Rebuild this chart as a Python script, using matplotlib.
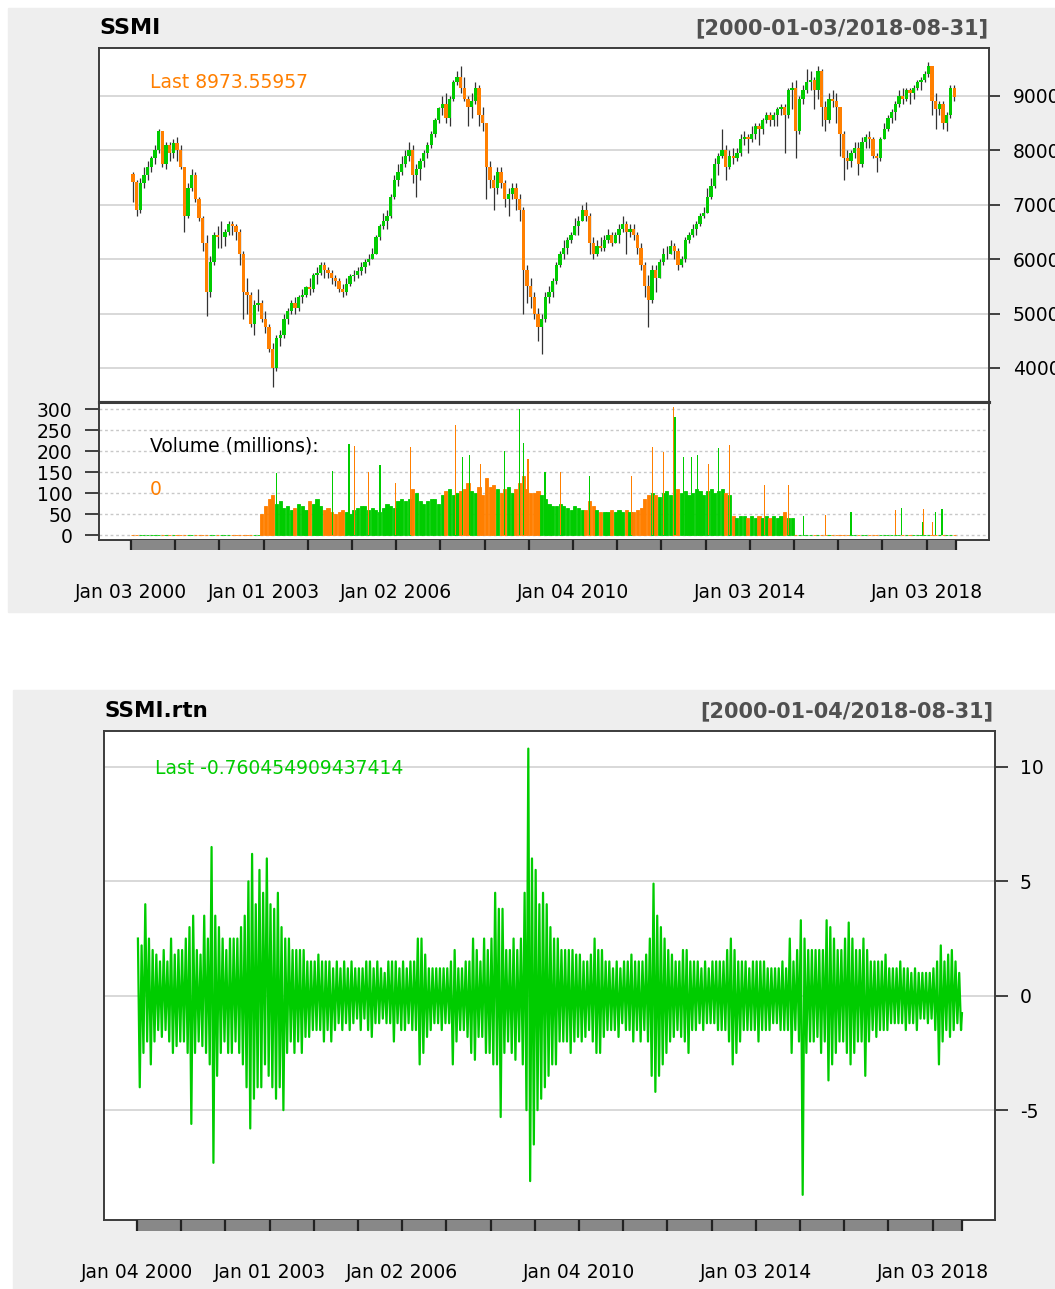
import matplotlib
matplotlib.use('Agg')
import matplotlib.pyplot as plt
import matplotlib.transforms as mtransforms
from matplotlib.patches import Rectangle
import numpy as np

# ---- data (monthly, Jan 2000 .. Aug 2018) ----
first_open = 7570
last_close = 8973.55957
closes = [
    7420, 6900, 7400, 7550, 7700, 7850, 8000, 8350, 7750, 8100, 7950, 8130,
    8000, 7700, 6800, 7300, 7550, 7100, 6750, 6300, 5400, 5950, 6450, 6400,
    6400, 6500, 6650, 6600, 6500, 6100, 5400, 5350, 4800, 5150, 5200, 4900,
    4750, 4350, 4000, 4550, 4600, 4900, 5050, 5200, 5100, 5300, 5350, 5480,
    5450, 5700, 5750, 5900, 5800, 5750, 5650, 5600, 5450, 5400, 5550, 5690,
    5700, 5780, 5850, 5950, 6000, 6100, 6400, 6600, 6700, 6800, 7150, 7450,
    7600, 7750, 7900, 8000, 7550, 7650, 7800, 7950, 8100, 8300, 8550, 8780,
    8850, 8600, 8950, 9250, 9350, 9150, 8950, 8800, 8900, 9150, 8650, 8500,
    7700, 7450, 7300, 7600, 7400, 7100, 7200, 7300, 7100, 6900, 5800, 5500,
    5300, 5000, 4750, 4900, 5300, 5400, 5600, 5900, 6100, 6200, 6350, 6450,
    6600, 6700, 6900, 6800, 6300, 6100, 6250, 6200, 6350, 6450, 6300, 6450,
    6550, 6650, 6500, 6550, 6450, 6200, 5900, 5500, 5250, 5800, 5650, 5950,
    6100, 6100, 6250, 6150, 5900, 6000, 6350, 6450, 6550, 6650, 6800, 6850,
    7150, 7350, 7750, 7900, 8000, 7700, 7900, 7850, 7950, 8200, 8250, 8200,
    8300, 8450, 8400, 8550, 8650, 8550, 8650, 8750, 8800, 8650, 9100, 9150,
    8350, 8950, 9100, 9250, 9300, 9100, 9450, 8800, 8550, 8950, 8900, 8800,
    8300, 7850, 7800, 7950, 8050, 7750, 8150, 8250, 8200, 7900, 7850, 8200,
    8400, 8600, 8700, 8850, 9000, 8950, 9100, 9050, 9150, 9250, 9300, 9400,
    9550, 8900, 8750, 8850, 8500, 8650, 9150, last_close,
]
highs = [
    7600, 7450, 7500, 7700, 7800, 7900, 8100, 8400, 8350, 8150, 8150, 8200,
    8250, 8100, 7700, 7400, 7650, 7600, 7150, 6800, 6450, 6050, 6500, 6600,
    6700, 6550, 6700, 6700, 6650, 6550, 6150, 5650, 5400, 5250, 5450, 5250,
    5050, 4800, 4450, 4600, 4700, 5000, 5100, 5250, 5300, 5350, 5450, 5500,
    5650, 5750, 5850, 5950, 5950, 5850, 5800, 5700, 5650, 5550, 5650, 5720,
    5800, 5850, 5950, 6000, 6100, 6200, 6450, 6650, 6850, 6900, 7200, 7550,
    7750, 7900, 8000, 8150, 8100, 7750, 7850, 8000, 8150, 8350, 8600, 8800,
    9000, 9050, 9000, 9300, 9450, 9550, 9350, 9000, 9050, 9250, 9200, 8800,
    8500, 7800, 7550, 7700, 7700, 7450, 7300, 7400, 7400, 7200, 6950, 5900,
    5650, 5400, 5100, 5000, 5400, 5500, 5650, 5950, 6150, 6350, 6400, 6500,
    6750, 6800, 7000, 7050, 6850, 6400, 6350, 6400, 6450, 6550, 6500, 6500,
    6650, 6800, 6700, 6650, 6650, 6500, 6300, 5950, 5700, 5900, 5900, 6000,
    6200, 6250, 6350, 6300, 6200, 6050, 6400, 6500, 6650, 6700, 6850, 6950,
    7300, 7500, 7850, 7950, 8400, 8100, 8000, 8050, 8050, 8300, 8350, 8300,
    8450, 8500, 8500, 8600, 8700, 8700, 8700, 8800, 8850, 8850, 9150, 9250,
    9300, 9000, 9200, 9500, 9450, 9350, 9550, 9500, 8900, 9050, 9100, 9050,
    8800, 8350, 8000, 8000, 8150, 8150, 8250, 8300, 8350, 8250, 7950, 8250,
    8500, 8650, 8750, 8900, 9100, 9150, 9150, 9150, 9200, 9300, 9350, 9450,
    9620, 9400, 9050, 8900, 8900, 8700, 9200, 9200,
]
lows = [
    7050, 6800, 6850, 7300, 7450, 7600, 7750, 7950, 7700, 7650, 7800, 7850,
    7800, 7650, 6500, 6750, 7250, 7050, 6700, 6150, 4950, 5300, 5900, 6200,
    6200, 6250, 6450, 6450, 6350, 5900, 4900, 5000, 4750, 4600, 5050, 4850,
    4650, 4300, 3650, 3950, 4400, 4550, 4800, 5000, 5000, 5050, 5200, 5300,
    5350, 5400, 5550, 5700, 5650, 5650, 5550, 5500, 5400, 5300, 5350, 5500,
    5600, 5650, 5700, 5750, 5900, 6000, 6100, 6350, 6550, 6550, 6750, 7100,
    7350, 7550, 7700, 7800, 7400, 7150, 7450, 7700, 7850, 8050, 8250, 8500,
    8650, 8500, 8450, 8900, 9200, 9050, 8900, 8450, 8600, 8850, 8450, 8350,
    7100, 7300, 6900, 7200, 7300, 6950, 6800, 7100, 6900, 6700, 5000, 5200,
    5100, 4900, 4500, 4250, 4850, 5200, 5300, 5550, 5850, 6000, 6100, 6300,
    6450, 6450, 6700, 6700, 6100, 6000, 6050, 6150, 6150, 6300, 6250, 6300,
    6300, 6500, 6100, 6400, 6350, 6100, 5800, 5300, 4750, 5200, 5400, 5650,
    5900, 6000, 6100, 6000, 5800, 5850, 5950, 6300, 6400, 6450, 6600, 6750,
    6850, 7100, 7300, 7550, 7850, 7450, 7650, 7750, 7800, 7900, 8100, 7950,
    8150, 8200, 8100, 8300, 8500, 8450, 8450, 8450, 8650, 7950, 8600, 8750,
    7850, 8300, 8850, 9050, 9100, 8750, 8950, 8450, 8350, 8500, 8800, 8500,
    7900, 7450, 7650, 7700, 7850, 7550, 7700, 8050, 8050, 7850, 7600, 7800,
    8200, 8350, 8500, 8550, 8800, 8850, 8900, 8850, 8950, 9100, 9100, 9250,
    9350, 8650, 8400, 8650, 8400, 8350, 8600, 8900,
]
volume = [0] * 35 + [50] + [
    70, 85, 95, 75, 80, 65, 70, 60, 65, 75, 70, 60,
    80, 75, 85, 70, 60, 65, 55, 50, 55, 60, 55, 50,
    60, 65, 70, 70, 60, 65, 60, 55, 65, 75, 70, 65,
    80, 85, 80, 85, 110, 100, 80, 75, 80, 85, 85, 75,
    95, 105, 110, 95, 100, 105, 110, 125, 105, 100, 115, 95,
    135, 115, 120, 110, 100, 110, 115, 100, 110, 125, 140, 110,
    100, 100, 105, 95, 85, 75, 70, 70, 75, 70, 65, 60,
    70, 65, 60, 60, 80, 70, 60, 55, 55, 55, 60, 55,
    60, 55, 60, 55, 55, 60, 65, 85, 95, 100, 95, 90,
    100, 105, 95, 100, 110, 100, 105, 95, 100, 110, 105, 95,
    105, 110, 100, 105, 110, 100, 95, 45, 40, 45, 45, 40,
    45, 40, 45, 40, 45, 40, 45, 40, 45, 55, 40, 40,
] + [0] * 44
# single heavy-volume days (month position, volume, up/down day)
spike_pos = [38.9, 54.1, 58.7, 60.1, 64.1, 67.1, 71.2, 75.3, 87.5, 89.6, 91.5,
             94.3, 101.0, 105.1, 106.0, 107.3, 111.9, 116.0, 124.1, 135.5,
             141.2, 144.2, 146.7, 147.2, 149.4, 151.8, 153.4, 156.2, 158.9,
             161.9, 171.4, 177.9, 182.0, 188.0, 195.0, 207.0, 208.6, 214.3,
             214.6, 217.0, 218.0, 219.7]
spike_vol = [148, 152, 217, 212, 150, 167, 124, 210, 262, 185, 190,
             170, 200, 300, 220, 180, 150, 150, 140, 140,
             210, 198, 305, 280, 185, 185, 190, 170, 207,
             214, 118, 120, 45, 48, 55, 60, 65, 30,
             62, 32, 55, 63]
spike_up = [1, 1, 1, 0, 0, 1, 0, 0, 0, 1, 1,
            0, 1, 1, 1, 0, 1, 0, 1, 0,
            0, 0, 0, 1, 1, 1, 1, 0, 1,
            0, 0, 0, 1, 0, 1, 0, 1, 1,
            0, 0, 1, 1]

# monthly extremes of daily returns (%)
ret_hi = [
    2.5, 2.2, 4.0, 2.5, 2.0, 1.8, 1.5, 2.0, 1.5, 2.5, 1.8, 2.0,
    2.0, 2.5, 3.0, 3.5, 2.0, 1.8, 3.5, 2.5, 6.5, 3.5, 3.0, 2.5,
    2.0, 2.5, 2.5, 2.5, 3.0, 3.5, 5.0, 6.2, 4.0, 5.5, 4.5, 6.0,
    4.0, 3.8, 4.5, 3.0, 2.5, 2.5, 2.0, 2.0, 2.0, 2.0, 1.5, 1.5,
    1.5, 1.8, 1.5, 1.5, 1.5, 1.2, 1.5, 1.2, 1.5, 1.2, 1.5, 1.2,
    1.2, 1.2, 1.5, 1.5, 1.2, 1.5, 1.2, 1.0, 1.5, 1.5, 1.5, 1.2,
    1.5, 1.2, 1.5, 1.5, 2.5, 2.5, 1.8, 1.2, 1.2, 1.2, 1.2, 1.2,
    1.2, 1.5, 2.0, 1.2, 1.2, 1.5, 1.5, 2.5, 2.0, 1.5, 2.5, 2.0,
    2.5, 4.5, 3.8, 3.8, 2.0, 2.0, 2.5, 2.0, 2.5, 4.5, 10.8, 6.0,
    5.5, 4.0, 4.5, 4.0, 3.0, 2.5, 2.5, 2.0, 2.0, 2.0, 2.0, 1.8,
    1.8, 1.5, 1.5, 1.8, 2.5, 2.0, 2.0, 1.5, 1.5, 1.2, 1.5, 1.2,
    1.5, 1.5, 1.8, 1.5, 1.5, 1.5, 1.8, 2.5, 4.9, 3.5, 3.0, 2.5,
    2.0, 1.8, 1.5, 1.5, 2.0, 2.0, 1.5, 1.5, 1.5, 1.2, 1.5, 1.2,
    1.5, 1.5, 1.5, 1.5, 2.0, 2.5, 2.0, 1.5, 1.5, 1.5, 1.2, 1.5,
    1.5, 1.5, 1.5, 1.2, 1.2, 1.2, 1.2, 1.5, 1.2, 2.5, 1.5, 2.0,
    3.3, 2.5, 2.0, 2.0, 2.0, 2.0, 2.0, 3.3, 3.0, 2.5, 2.0, 2.0,
    2.5, 3.2, 2.5, 2.0, 2.0, 2.5, 2.0, 1.5, 1.5, 1.5, 1.5, 1.8,
    1.2, 1.2, 1.2, 1.5, 1.2, 1.2, 1.0, 1.2, 1.0, 1.0, 1.0, 1.0,
    1.2, 1.5, 2.2, 1.5, 1.8, 2.0, 1.5, 1.0,
]
ret_lo = [
    -4.0, -2.5, -2.0, -3.0, -2.0, -1.5, -1.8, -1.5, -2.0, -2.5, -2.2, -2.0,
    -2.0, -2.5, -5.6, -2.5, -2.0, -2.2, -2.5, -3.0, -7.3, -3.5, -2.5, -2.0,
    -2.5, -2.5, -2.0, -2.5, -3.0, -4.0, -5.8, -4.5, -4.0, -4.0, -3.0, -3.5,
    -4.0, -4.5, -4.0, -5.0, -2.5, -2.0, -2.5, -2.0, -2.5, -1.8, -1.8, -1.5,
    -1.5, -1.5, -2.0, -1.5, -2.0, -1.5, -1.2, -1.5, -1.2, -1.5, -1.2, -1.0,
    -1.5, -1.0, -1.5, -1.8, -1.2, -1.2, -1.0, -1.2, -1.2, -2.0, -1.2, -1.5,
    -1.5, -1.2, -1.5, -1.5, -3.0, -2.5, -1.8, -1.5, -1.2, -1.2, -1.5, -1.2,
    -1.2, -3.0, -2.0, -1.5, -1.5, -1.8, -2.5, -2.8, -1.8, -1.8, -2.5, -2.5,
    -3.0, -3.0, -5.3, -2.5, -2.0, -2.5, -2.8, -2.0, -3.0, -5.0, -8.1, -6.5,
    -5.0, -4.5, -4.0, -3.5, -3.0, -3.0, -2.0, -2.0, -2.0, -2.5, -2.0, -1.8,
    -2.0, -1.8, -1.5, -2.0, -2.5, -2.5, -1.8, -1.5, -1.5, -1.5, -1.8, -1.2,
    -1.5, -1.5, -2.0, -1.5, -2.0, -1.5, -2.0, -3.5, -4.2, -3.5, -3.0, -2.5,
    -2.0, -1.8, -1.5, -1.8, -2.0, -2.5, -1.5, -1.5, -1.2, -1.5, -1.2, -1.2,
    -1.2, -1.5, -1.5, -1.5, -2.0, -3.0, -2.5, -2.0, -1.5, -1.5, -1.5, -1.5,
    -2.0, -1.5, -1.5, -1.5, -1.2, -1.2, -1.5, -1.5, -1.5, -2.5, -1.5, -2.0,
    -8.7, -2.5, -2.0, -2.0, -1.8, -2.5, -2.0, -3.7, -3.0, -2.5, -2.0, -2.0,
    -2.5, -3.0, -2.5, -2.0, -2.0, -3.5, -2.0, -1.5, -1.8, -1.5, -1.5, -1.5,
    -1.2, -1.2, -1.2, -1.2, -1.5, -1.2, -1.2, -1.5, -1.0, -1.0, -1.2, -1.0,
    -1.5, -3.0, -2.0, -1.5, -1.8, -1.5, -1.2, -1.5,
]
ret_last = -0.760454909437414

price_ticks = [4000, 5000, 6000, 7000, 8000, 9000]
vol_ticks = [0, 50, 100, 150, 200, 250, 300]
ret_ticks = [-5, 0, 5, 10]
top_labels = ['Jan 03 2000', 'Jan 01 2003', 'Jan 02 2006', 'Jan 04 2010', 'Jan 03 2014', 'Jan 03 2018']
bot_labels = ['Jan 04 2000', 'Jan 01 2003', 'Jan 02 2006', 'Jan 04 2010', 'Jan 03 2014', 'Jan 03 2018']
label_months = [0, 36, 72, 120, 168, 216]

UP = '#00CC00'
DOWN = '#FF7F00'
FRAME = '#3C3C3C'
GRID = '#D6D6D6'
BG = '#EEEEEE'
FS = 13.5

W, H = 1055, 1289
fig = plt.figure(figsize=(W / 100, H / 100), dpi=100)


def box(l, t, r, b):
    return [l / W, 1 - b / H, (r - l) / W, (b - t) / H]


def ftext(x, y, s, **kw):
    fig.text(x / W, 1 - y / H, s, va='center', **kw)


fig.add_artist(Rectangle((8 / W, 1 - 612 / H), 1 - 8 / W, 604 / H,
                         transform=fig.transFigure, color=BG, zorder=-5))
fig.add_artist(Rectangle((13 / W, 0), 1 - 13 / W, 1 - 690 / H,
                         transform=fig.transFigure, color=BG, zorder=-5))

n = len(closes)
months = np.arange(n)
opens = np.array([first_open] + closes[:-1], dtype=float)
closes_a = np.array(closes, dtype=float)
up = closes_a >= opens
cols = [UP if u else DOWN for u in up]


def style_frame(ax):
    for sp in ax.spines.values():
        sp.set_color(FRAME)
        sp.set_linewidth(1.4)


def tick_bar(ax, x0, x1):
    ax.set_xlim(x0, x1)
    ax.set_ylim(0, 1)
    ax.axis('off')
    ax.add_patch(Rectangle((-0.5, 0), n, 1, color='#888888', lw=0))
    for k in range(0, 19):
        ax.plot([12 * k - 0.5] * 2, [0, 1], color='#222222', lw=1.6)
    ax.plot([n - 0.5] * 2, [0, 1], color='#222222', lw=1.6)


# ---- SSMI price ----
xl_top = (-9.19, 232.46)
ax1 = fig.add_axes(box(99, 48, 989, 402))
ax1.set_xlim(*xl_top)
ax1.set_ylim(3375, 9880)
for v in price_ticks:
    ax1.axhline(v, color=GRID, lw=1.3, zorder=1)
ax1.vlines(months, lows, highs, color='#333333', lw=0.9, zorder=2)
ax1.bar(months, closes_a - opens, bottom=opens, width=0.9, color=cols, lw=0, zorder=3)
ax1.set_xticks([])
ax1.yaxis.tick_right()
ax1.set_yticks(price_ticks)
ax1.set_yticklabels([str(v) for v in price_ticks])
ax1.tick_params(axis='y', length=8, width=1.2, pad=9, labelsize=FS, color='#222222')
style_frame(ax1)
ax1.spines['bottom'].set_linewidth(2.2)

# ---- volume ----
ax2 = fig.add_axes(box(99, 402, 989, 540))
ax2.set_xlim(*xl_top)
ax2.set_ylim(-11.9, 316.7)
for v in vol_ticks:
    ax2.axhline(v, color='#C8C8C8', lw=1.0, ls=(0, (2, 2)), zorder=1)
ax2.bar(months, volume, width=0.85, color=cols, edgecolor=cols, lw=0.6, zorder=2)
ax2.bar(spike_pos, spike_vol, width=0.3, color=[UP if u else DOWN for u in spike_up],
        lw=0, zorder=3)
ax2.set_xticks([])
ax2.set_yticks(vol_ticks)
ax2.set_yticklabels([str(v) for v in vol_ticks])
ax2.tick_params(axis='y', length=10, width=1.2, pad=9, labelsize=FS, color='#222222')
style_frame(ax2)
ax2.spines['top'].set_linewidth(2.2)

ax3 = fig.add_axes(box(99, 540, 989, 550))
tick_bar(ax3, *xl_top)
tr3 = mtransforms.blended_transform_factory(ax3.transData, fig.transFigure)
for m, lab in zip(label_months, top_labels):
    ax3.text(m - 0.5, 1 - 592 / H, lab, transform=tr3, ha='center', va='center', fontsize=FS)

ftext(99, 28, 'SSMI', fontsize=16, fontweight='bold')
ftext(988, 28, '[2000-01-03/2018-08-31]', fontsize=15, fontweight='bold', color='#505050', ha='right')
ftext(150, 83, 'Last ' + repr(last_close), fontsize=FS, color=DOWN)
ftext(150, 446, 'Volume (millions):', fontsize=FS)
ftext(150, 489, str(volume[-1]), fontsize=FS, color=DOWN)

# ---- SSMI.rtn ----
rx, ry = [], []
for i in range(n):
    rx += [i - 0.25, i + 0.25]
    ry += [ret_hi[i], ret_lo[i]]
rx.append(n - 0.5)
ry.append(ret_last)

xl_bot = (-9.46, 232.47)
ax4 = fig.add_axes(box(104, 731, 995, 1220))
ax4.set_xlim(*xl_bot)
ax4.set_ylim(-9.8, 11.57)
for v in ret_ticks:
    ax4.axhline(v, color=GRID, lw=1.3, zorder=1)
ax4.plot(rx, ry, color=UP, lw=1.6, zorder=2)
ax4.set_xticks([])
ax4.yaxis.tick_right()
ax4.set_yticks(ret_ticks)
ax4.set_yticklabels([str(v) for v in ret_ticks])
ax4.tick_params(axis='y', length=9, width=1.2, pad=9, labelsize=FS, color='#222222')
style_frame(ax4)

ax5 = fig.add_axes(box(104, 1220, 995, 1231))
tick_bar(ax5, *xl_bot)
tr5 = mtransforms.blended_transform_factory(ax5.transData, fig.transFigure)
for m, lab in zip(label_months, bot_labels):
    ax5.text(m - 0.5, 1 - 1273 / H, lab, transform=tr5, ha='center', va='center', fontsize=FS)

ftext(104, 711, 'SSMI.rtn', fontsize=15.5, fontweight='bold')
ftext(993, 711, '[2000-01-04/2018-08-31]', fontsize=15, fontweight='bold', color='#505050', ha='right')
ftext(155, 768, 'Last ' + repr(ret_last), fontsize=FS, color=UP)

fig.savefig('out.png', dpi=100)
